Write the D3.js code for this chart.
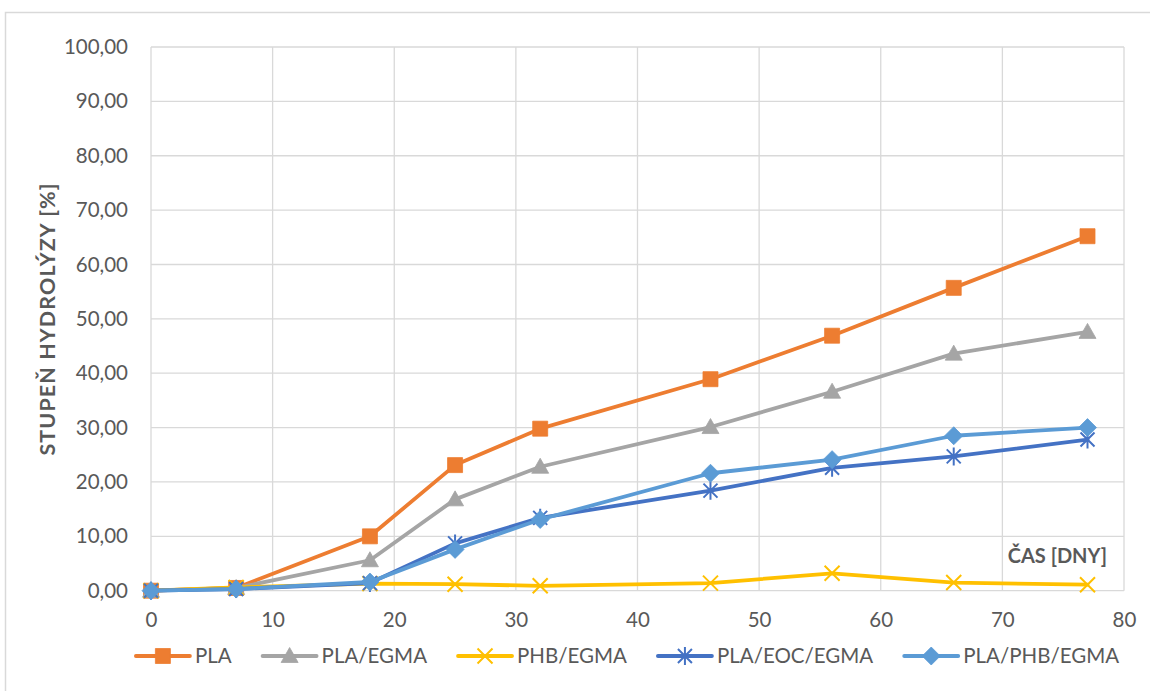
<!DOCTYPE html>
<html>
<head>
<meta charset="utf-8">
<script src="https://cdn.jsdelivr.net/npm/d3@7"></script>
<style>
  html, body { margin: 0; padding: 0; background: #fff; }
  svg { display: block; font-family: Lato, "Open Sans", sans-serif; }
</style>
</head>
<body>
<svg id="chart" width="1150" height="691"></svg>
<script>
// Hydrolysis degree [%] over time [days]
const days = [0, 7, 18, 25, 32, 46, 56, 66, 77];
const seriesNames = ["PLA", "PLA/EGMA", "PHB/EGMA", "PLA/EOC/EGMA", "PLA/PHB/EGMA"];
const pla        = [0, 0.5, 10.0, 23.1, 29.8, 38.9, 46.9, 55.7, 65.2];
const plaEgma    = [0, 0.5, 5.6, 16.8, 22.8, 30.1, 36.6, 43.6, 47.6];
const phbEgma    = [0, 0.6, 1.3, 1.2, 0.9, 1.4, 3.2, 1.5, 1.1];
const plaEocEgma = [0, 0.3, 1.4, 8.7, 13.4, 18.4, 22.6, 24.7, 27.8];
const plaPhbEgma = [0, 0.3, 1.6, 7.6, 13.1, 21.6, 24.1, 28.5, 30.0];
const xTicks = [0, 10, 20, 30, 40, 50, 60, 70, 80];
const yTicks = [0, 10, 20, 30, 40, 50, 60, 70, 80, 90, 100];
const xTitle = "ČAS [DNY]";
const yTitle = "STUPEŇ HYDROLÝZY [%]";

const colors = ["#ED7D31", "#A5A5A5", "#FFC000", "#4472C4", "#5B9BD5"];
const markers = ["square", "triangle", "x", "star", "diamond"];
const values = [pla, plaEgma, phbEgma, plaEocEgma, plaPhbEgma];

const svg = d3.select("#chart");
const textColor = "#595959";
const gridColor = "#D9D9D9";

// chart frame
svg.append("rect")
  .attr("x", 5.5).attr("y", 12.5)
  .attr("width", 1300).attr("height", 800)
  .attr("fill", "none").attr("stroke", "#D9D9D9").attr("stroke-width", 1.5);

const x = d3.scaleLinear().domain([0, 80]).range([151, 1124]);
const y = d3.scaleLinear().domain([0, 100]).range([590.7, 47]);

// gridlines
const grid = svg.append("g");
grid.selectAll("line.h").data(yTicks).join("line")
  .attr("x1", x(0)).attr("x2", x(80))
  .attr("y1", d => y(d)).attr("y2", d => y(d))
  .attr("stroke", gridColor).attr("stroke-width", 1.3);
grid.selectAll("line.v").data(xTicks).join("line")
  .attr("y1", y(0)).attr("y2", y(100))
  .attr("x1", d => x(d)).attr("x2", d => x(d))
  .attr("stroke", gridColor).attr("stroke-width", 1.3);

// axes (labels only)
const fmt = d => d.toFixed(2).replace(".", ",");
const yAxis = d3.axisLeft(y).tickValues(yTicks).tickFormat(fmt).tickSize(0).tickPadding(23);
const gy = svg.append("g").attr("transform", `translate(${x(0)},0)`).call(yAxis);
gy.select(".domain").remove();
gy.selectAll("text").attr("fill", textColor).style("font-size", "20.5px").style("font-family", "Lato");

const xAxis = d3.axisBottom(x).tickValues(xTicks).tickFormat(d3.format("d")).tickSize(0).tickPadding(22);
const gx = svg.append("g").attr("transform", `translate(0,${y(0)})`).call(xAxis);
gx.select(".domain").remove();
gx.selectAll("text").attr("fill", textColor).style("font-size", "20.5px").style("font-family", "Lato");

// axis titles
svg.append("text")
  .attr("x", 1107).attr("y", 563)
  .attr("text-anchor", "end")
  .attr("fill", textColor).style("font-size", "20px").style("font-weight", "bold")
  .text(xTitle);

svg.append("text")
  .attr("transform", `translate(55,319.5) rotate(-90)`)
  .attr("text-anchor", "middle")
  .attr("textLength", 272).attr("lengthAdjust", "spacing")
  .attr("fill", textColor).style("font-size", "21.5px").style("font-weight", "bold")
  .text(yTitle);

// marker shapes
function markerPath(kind) {
  switch (kind) {
    case "square": return "M-7.5,-7.5H7.5V7.5H-7.5Z";
    case "triangle": return "M0,-8.5L8.5,6.5H-8.5Z";
    case "diamond": return "M0,-9L9,0L0,9L-9,0Z";
    case "x": return "M-7.5,-7.5L7.5,7.5M7.5,-7.5L-7.5,7.5";
    case "star": return "M-7,-7L7,7M7,-7L-7,7M0,-9V9";
  }
}
function drawMarker(g, kind, color) {
  const stroked = kind === "x" || kind === "star";
  g.append("path")
    .attr("d", markerPath(kind))
    .attr("fill", stroked ? "none" : color)
    .attr("stroke", color)
    .attr("stroke-width", stroked ? 2 : 0.8);
}

// series
const line = d3.line().x(d => x(d[0])).y(d => y(d[1]));
values.forEach((vals, i) => {
  const pts = days.map((d, k) => [d, vals[k]]);
  const g = svg.append("g");
  g.append("path")
    .attr("d", line(pts))
    .attr("fill", "none")
    .attr("stroke", colors[i])
    .attr("stroke-width", 3.8)
    .attr("stroke-linejoin", "round")
    .attr("stroke-linecap", "round");
  pts.forEach(p => {
    const m = g.append("g").attr("transform", `translate(${x(p[0])},${y(p[1])})`);
    drawMarker(m, markers[i], colors[i]);
  });
});

// legend
const legend = svg.append("g");
const legendY = 656;
const items = seriesNames.map((name, i) => {
  const g = legend.append("g");
  g.append("line").attr("x1", 0).attr("x2", 54).attr("y1", 0).attr("y2", 0)
    .attr("stroke", colors[i]).attr("stroke-width", 3.8).attr("stroke-linecap", "round");
  drawMarker(g.append("g").attr("transform", "translate(27,0)"), markers[i], colors[i]);
  const t = g.append("text").attr("x", 59).attr("y", 7)
    .attr("fill", textColor).style("font-size", "20.5px").text(name);
  return { g, w: 59 + t.node().getComputedTextLength() };
});
const gap = 31;
const total = d3.sum(items, d => d.w) + gap * (items.length - 1);
let cx = 627.5 - total / 2;
items.forEach(it => {
  it.g.attr("transform", `translate(${cx},${legendY})`);
  cx += it.w + gap;
});
</script>
</body>
</html>
